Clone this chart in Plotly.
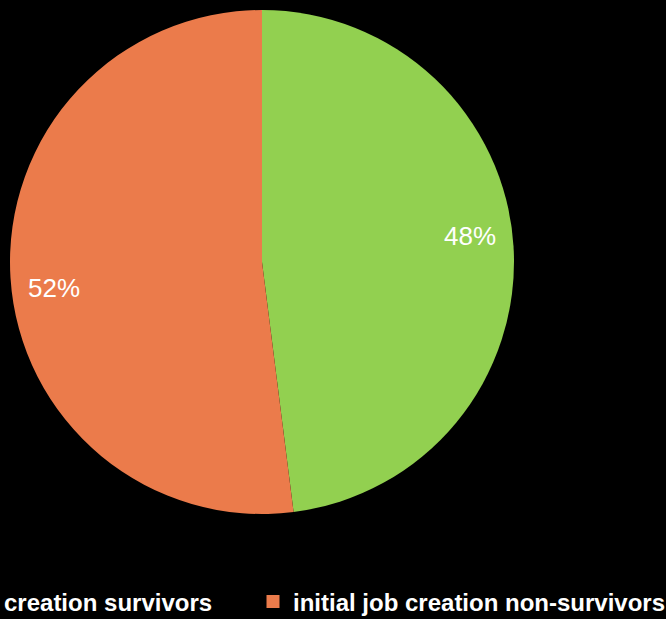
import math
import plotly.graph_objects as go

labels = ["initial job creation survivors", "initial job creation non-survivors"]
values = [48, 52]
colors = ["#92D050", "#EB7B4B"]

W, H = 666, 619
# pie placement (pixels)
PIE_L, PIE_R, PIE_T, PIE_B = 10, 514, 10, 514
dom_x = [PIE_L / W, PIE_R / W]
dom_y = [1 - PIE_B / H, 1 - PIE_T / H]

fig = go.Figure()
fig.add_trace(go.Pie(
    labels=labels,
    values=values,
    marker=dict(colors=colors, line=dict(width=0)),
    sort=False,
    direction="clockwise",
    rotation=0,
    textinfo="none",
    domain=dict(x=dom_x, y=dom_y),
    hoverinfo="label+percent",
    showlegend=False,
))

# data labels placed near the rim of each slice
LABEL_R = 0.83          # fraction of radius
LABEL_TURN = -0.01      # small angular shift of label placement (turns)
total = sum(values)
cx = (dom_x[0] + dom_x[1]) / 2
cy = (dom_y[0] + dom_y[1]) / 2
rx = (dom_x[1] - dom_x[0]) / 2
ry = (dom_y[1] - dom_y[0]) / 2
cum = 0
for v in values:
    mid = ((cum + v / 2) / total + LABEL_TURN) * 2 * math.pi
    cum += v
    fig.add_annotation(
        x=cx + LABEL_R * rx * math.sin(mid),
        y=cy + LABEL_R * ry * math.cos(mid),
        xref="paper", yref="paper",
        text=f"{round(100 * v / total)}%",
        showarrow=False,
        font=dict(color="white", size=26, family="Liberation Sans, Arial, sans-serif"),
        xanchor="center", yanchor="middle",
    )

# legend entries (one legend per entry so the row can run off the left edge)
legend_names = ["legend", "legend2"]
for lab, col, lg in zip(labels, colors, legend_names):
    fig.add_trace(go.Scatter(
        x=[None], y=[None], mode="markers",
        marker=dict(symbol="square", size=13, color=col, line=dict(width=0)),
        name=lab, legend=lg, showlegend=True, hoverinfo="skip",
    ))

legend_font = dict(color="white", size=24, family="Liberation Sans, Arial, sans-serif", weight="bold")
common = dict(
    orientation="h",
    xanchor="left",
    yanchor="middle",
    y=1 - 602 / H,
    font=legend_font,
    bgcolor="rgba(0,0,0,0)",
    borderwidth=0,
    itemclick=False,
    itemdoubleclick=False,
)

fig.update_layout(
    width=W,
    height=H,
    margin=dict(l=0, r=0, t=0, b=0, autoexpand=False),
    paper_bgcolor="black",
    plot_bgcolor="black",
    xaxis=dict(visible=False),
    yaxis=dict(visible=False),
    legend=dict(x=-148 / W, **common),
    legend2=dict(x=253 / W, **common),
)

fig.write_html("out.html")
